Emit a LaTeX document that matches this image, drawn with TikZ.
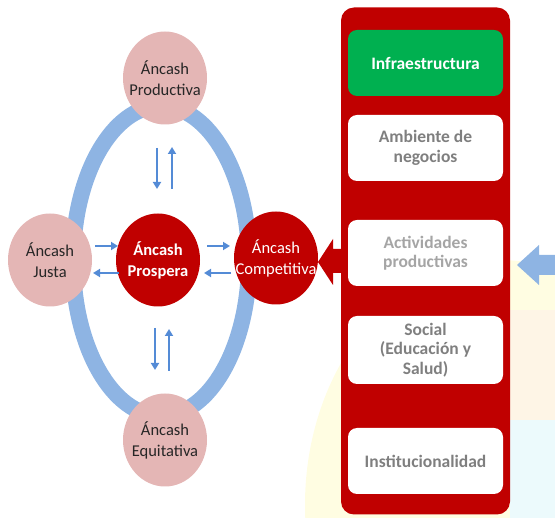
\documentclass[tikz,border=0pt]{standalone}
\usepackage{fontspec}
\setmainfont{Carlito}
\usetikzlibrary{shapes.geometric,arrows.meta}
\definecolor{ringblue}{RGB}{142,180,227}
\definecolor{arrblue}{RGB}{84,139,214}
\definecolor{pinkc}{RGB}{228,182,181}
\definecolor{darkred}{RGB}{192,0,0}
\definecolor{boxgreen}{RGB}{0,176,80}
\definecolor{txtgray}{RGB}{127,127,127}
\definecolor{txtlight}{RGB}{165,165,165}
\definecolor{paleyellow}{RGB}{255,253,226}
\definecolor{paleorange}{RGB}{254,245,230}
\definecolor{palecyan}{RGB}{236,250,252}
\tikzset{
  x=1pt, y=-1pt,
  bubble/.style={ellipse, minimum width=84pt, minimum height=93pt, inner sep=0pt},
  pinkbub/.style={bubble, fill=pinkc},
  redbub/.style={bubble, fill=darkred},
  bubtext/.style={align=center, font=\fontsize{16.5}{21}\selectfont, inner sep=0pt},
  smallarr/.style={-{Triangle[length=7pt,width=8pt]}, line width=2.3pt, draw=arrblue},
  innerbox/.style={rounded corners=9pt, fill=white, minimum width=155pt, minimum height=66pt, inner sep=0pt, align=center, font=\bfseries\fontsize{17.5}{19.5}\selectfont, text=txtgray}
}
\begin{document}
\begin{tikzpicture}
\useasboundingbox (0,0) rectangle (555,518);
% faint watermark
\begin{scope}
\clip (0,0) rectangle (555,518);
\fill[paleyellow] (500,505) ellipse [x radius=195, y radius=245];
\fill[paleorange] (510,310) rectangle (555,420);
\fill[palecyan] (510,420) rectangle (555,518);
\end{scope}
% ring
\draw[ringblue, line width=16pt] (161,261) ellipse [x radius=88, y radius=155];
% bubbles
\node[pinkbub, label={[bubtext, text=black!85]center:Áncash\\Productiva}] (prod) at (165,78) {};
\node[pinkbub, label={[bubtext, text=black!85]center:Áncash\\Equitativa}] (equi) at (165,440) {};
\node[pinkbub, label={[bubtext, text=black!85]center:Áncash\\Justa}] (just) at (50,260) {};
\node[redbub, label={[bubtext, text=white, font=\bfseries\fontsize{16.5}{21}\selectfont]center:Áncash\\Prospera}] (pros) at (158,260) {};
% red panel
\node[fill=darkred, rounded corners=13pt, minimum width=169pt, minimum height=507pt, inner sep=0pt] (panel) at (425.5,261) {};
% big red arrow
\fill[darkred] (panel.west |- 0,249) -- (333,249) -- (333,239) -- (318,262) -- (333,285) -- (333,273) -- (panel.west |- 0,273) -- cycle;
\node[redbub, label={[bubtext, text=white]center:Áncash\\Competitiva}] (comp) at (276,258) {};
% inner boxes
\node[innerbox, fill=boxgreen, text=white] (infra) at (425.5,63) {Infraestructura};
\node[innerbox] (amb) at (425.5,148) {Ambiente de\\negocios};
\node[innerbox, text=txtlight] (act) at (425.5,253) {Actividades\\productivas};
\node[innerbox, minimum height=68pt] (soc) at (425.5,350) {Social\\(Educación y\\Salud)};
\node[innerbox] (inst) at (425.5,461) {Institucionalidad};
% right blue arrow
\fill[ringblue] (555,255) -- (539,255) -- (539,245) -- (517,265) -- (539,285) -- (539,275) -- (555,275) -- cycle;
% small arrows
\coordinate (pd1) at (157,148); \coordinate (pd2) at (157,189);
\coordinate (pu1) at (172,189); \coordinate (pu2) at (172,147);
\draw[smallarr] (pd1) -- (pd2);
\draw[smallarr] (pu1) -- (pu2);
\coordinate (ed1) at (155,328); \coordinate (ed2) at (155,370);
\coordinate (eu1) at (169,371); \coordinate (eu2) at (169,329);
\draw[smallarr] (ed1) -- (ed2);
\draw[smallarr] (eu1) -- (eu2);
\coordinate (jp1) at (95,246); \coordinate (jp2) at (118,246);
\coordinate (pj1) at (119,273); \coordinate (pj2) at (93,273);
\draw[smallarr] (jp1) -- (jp2);
\draw[smallarr] (pj1) -- (pj2);
\coordinate (pc1) at (207,246); \coordinate (pc2) at (230,246);
\coordinate (cp1) at (231,273); \coordinate (cp2) at (204,273);
\draw[smallarr] (pc1) -- (pc2);
\draw[smallarr] (cp1) -- (cp2);
\end{tikzpicture}
\end{document}
